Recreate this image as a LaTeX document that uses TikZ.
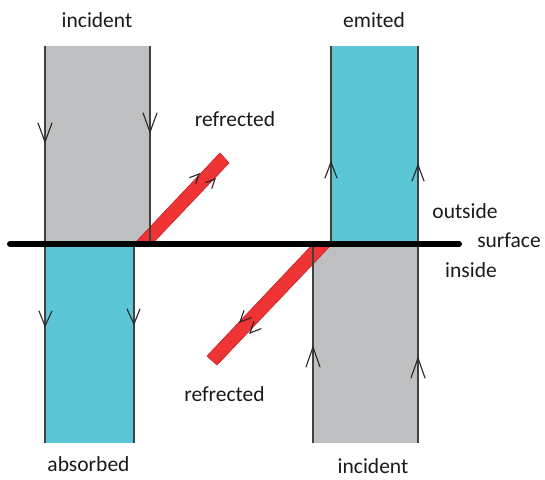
\documentclass[tikz,border=0pt]{standalone}
\usepackage{fontspec}
\setmainfont{Carlito}
\definecolor{beamgray}{HTML}{BDBFC0}
\definecolor{beamcyan}{HTML}{5BC6D5}
\definecolor{beamred}{HTML}{EE3434}
\definecolor{beamredline}{HTML}{C42222}
\definecolor{edgegray}{HTML}{3E4242}
\definecolor{labelink}{HTML}{1A1A1A}
\tikzset{
  coledge/.style={draw=edgegray, line width=1.4pt},
  redbeam/.style={fill=beamred, draw=beamredline, line width=0.6pt, line join=miter},
  chev/.style={draw=black!85, line width=1.1pt, line join=miter, line cap=round},
  surfaceline/.style={draw=black, line width=6pt, line cap=round},
  lbl/.style={font=\fontsize{21.5}{24}\selectfont, text=labelink, inner sep=0pt, anchor=base}
}
\begin{document}
\begin{tikzpicture}[x=1pt, y=-1pt]
  \useasboundingbox (0,0) rectangle (545,479);
  % column fills
  \fill[beamgray] (45,46) rectangle (150,244);
  \fill[beamcyan] (45,244) rectangle (134,443);
  \fill[beamcyan] (331,46) rectangle (418,244);
  \fill[beamgray] (313,244) rectangle (418,443);
  % refracted beams
  \path[redbeam] (134,244) -- (152,244) -- (229,163) -- (220,153) -- cycle;
  \path[redbeam] (313,244) -- (332,244) -- (217,365) -- (207,356) -- cycle;
  % column edges
  \draw[coledge] (45,46) -- (45,443);
  \draw[coledge] (150,46) -- (150,244);
  \draw[coledge] (134,244) -- (134,443);
  \draw[coledge] (331,46) -- (331,244);
  \draw[coledge] (418,46) -- (418,443);
  \draw[coledge] (313,244) -- (313,443);
  % the surface
  \coordinate (sl) at (10,244);
  \coordinate (sr) at (459,244);
  \draw[surfaceline] (sl) -- (sr);
  % direction marks, incident (top left)
  \draw[chev] (38,123) -- (45,142) -- (52,123);
  \draw[chev] (143,113) -- (150,132) -- (157,113);
  % absorbed
  \draw[chev] (39,311) -- (45,326) -- (52,311);
  \draw[chev] (127,309) -- (134,324) -- (140,309);
  % emitted
  \draw[chev] (325,178) -- (331,162) -- (337,178);
  \draw[chev] (412,181) -- (418,165) -- (424,181);
  % incident (bottom right)
  \draw[chev] (306,367) -- (313,347) -- (320,367);
  \draw[chev] (411,378) -- (418,358) -- (425,378);
  % refracted, upper beam
  \draw[chev] (195.8,183.5) -- (199,174) -- (189.7,177.6);
  \draw[chev] (211.8,188.5) -- (215,179) -- (205.7,182.6);
  % refracted, lower beam
  \draw[chev] (251.2,317.7) -- (240,322) -- (243.9,310.6);
  \draw[chev] (261,328.7) -- (250,333) -- (253.9,321.6);
  % labels
  \node[lbl] (incTop) at (97,27) {incident};
  \node[lbl] (emit) at (374,27) {emited};
  \node[lbl] (refUp) at (235,126) {refrected};
  \node[lbl] (outs) at (465,218) {outside};
  \node[lbl] (surf) at (509,247) {surface};
  \node[lbl] (ins) at (471,277) {inside};
  \node[lbl] (refLow) at (224.5,401) {refrected};
  \node[lbl] (absb) at (88.5,471) {absorbed};
  \node[lbl] (incBot) at (373,473) {incident};
\end{tikzpicture}
\end{document}
